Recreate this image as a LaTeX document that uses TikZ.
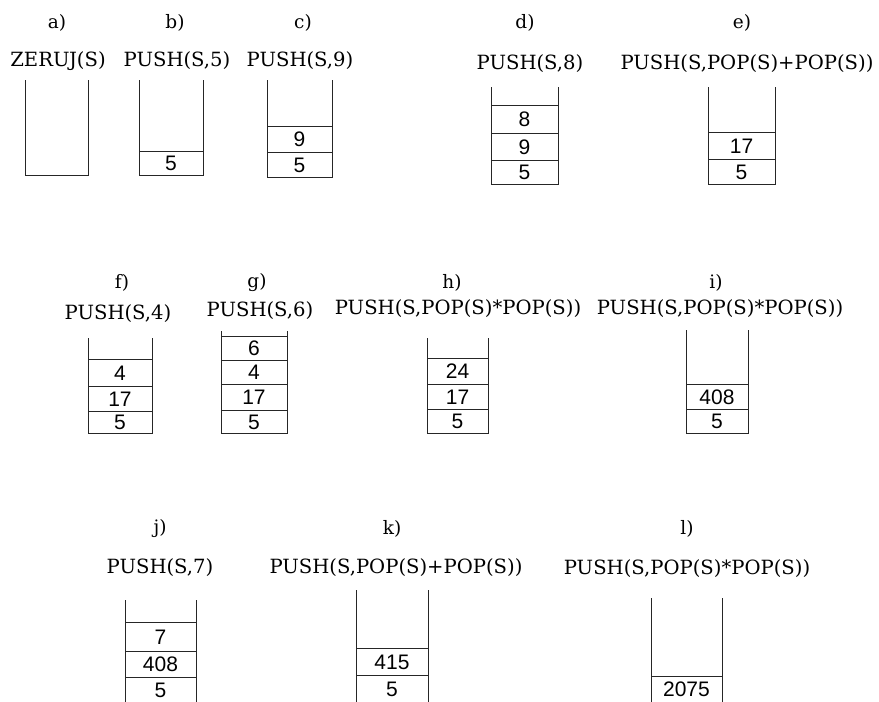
\documentclass[tikz,border=0pt]{standalone}
\usepackage{fontspec}
\setmainfont{DejaVu Serif}
\newfontfamily\cellfont{Liberation Sans}
\usetikzlibrary{positioning}

\tikzset{
  lbl/.style={anchor=center,inner sep=0pt,font=\fontsize{18.5}{22}\selectfont},
  op/.style={anchor=center,inner sep=0pt,font=\fontsize{19.6}{22}\selectfont},
  cell/.style={anchor=center,inner sep=0pt,font=\cellfont\fontsize{21}{23}\selectfont},
  wall/.style={draw=black!85,line width=.9pt}
}

\begin{document}
\begin{tikzpicture}[x=1pt,y=-1pt]
\path[use as bounding box] (0,0) rectangle (879,702);
% row 1
\node[lbl] (la) at (57,23) {a)};
\node[op] (oa) at (58,61) {ZERUJ(S)};
\draw[wall] (25,80) -- (25,175) -- (88,175) -- (88,80);
\node[lbl] (lb) at (175,23) {b)};
\node[op] (ob) at (177,61) {PUSH(S,5)};
\draw[wall] (139,80) -- (139,175) -- (203,175) -- (203,80);
\draw[wall] (139,151) -- (203,151);
\node[cell] (b1) at (171,163.5) {5};
\node[lbl] (lc) at (303,23) {c)};
\node[op] (oc) at (300,61) {PUSH(S,9)};
\draw[wall] (267,80) -- (267,177) -- (332,177) -- (332,80);
\draw[wall] (267,126) -- (332,126);
\draw[wall] (267,152) -- (332,152);
\node[cell] (c2) at (299.5,139.5) {9};
\node[cell] (c1) at (299.5,165) {5};
\node[lbl] (ld) at (525,23) {d)};
\node[op] (od) at (530,64) {PUSH(S,8)};
\draw[wall] (491,87) -- (491,184) -- (558,184) -- (558,87);
\draw[wall] (491,105) -- (558,105);
\draw[wall] (491,133) -- (558,133);
\draw[wall] (491,160) -- (558,160);
\node[cell] (d3) at (524.5,119.5) {8};
\node[cell] (d2) at (524.5,147) {9};
\node[cell] (d1) at (524.5,172.5) {5};
\node[lbl] (le) at (742,23) {e)};
\node[op] (oe) at (747,64) {PUSH(S,POP(S)+POP(S))};
\draw[wall] (708,87) -- (708,184) -- (775,184) -- (775,87);
\draw[wall] (708,132) -- (775,132);
\draw[wall] (708,159) -- (775,159);
\node[cell] (e2) at (741.5,146) {17};
\node[cell] (e1) at (741.5,172) {5};
% row 2
\node[lbl] (lf) at (122,283) {f)};
\node[op] (of) at (118,314) {PUSH(S,4)};
\draw[wall] (88,338) -- (88,433) -- (152,433) -- (152,338);
\draw[wall] (88,359) -- (152,359);
\draw[wall] (88,386) -- (152,386);
\draw[wall] (88,411) -- (152,411);
\node[cell] (f3) at (120,373) {4};
\node[cell] (f2) at (120,399) {17};
\node[cell] (f1) at (120,422.5) {5};
\node[lbl] (lg) at (257,283) {g)};
\node[op] (og) at (260,311) {PUSH(S,6)};
\draw[wall] (221,331) -- (221,433) -- (287,433) -- (287,331);
\draw[wall] (221,336) -- (287,336);
\draw[wall] (221,360) -- (287,360);
\draw[wall] (221,384) -- (287,384);
\draw[wall] (221,410) -- (287,410);
\node[cell] (g4) at (254,348.5) {6};
\node[cell] (g3) at (254,372.5) {4};
\node[cell] (g2) at (254,397.5) {17};
\node[cell] (g1) at (254,422) {5};
\node[lbl] (lh) at (452,283) {h)};
\node[op] (oh) at (458,309) {PUSH(S,POP(S)*POP(S))};
\draw[wall] (427,338) -- (427,433) -- (488,433) -- (488,338);
\draw[wall] (427,358) -- (488,358);
\draw[wall] (427,384) -- (488,384);
\draw[wall] (427,409) -- (488,409);
\node[cell] (h3) at (457.5,371.5) {24};
\node[cell] (h2) at (457.5,397) {17};
\node[cell] (h1) at (457.5,421.5) {5};
\node[lbl] (li) at (716,283) {i)};
\node[op] (oi) at (720,309) {PUSH(S,POP(S)*POP(S))};
\draw[wall] (686,330) -- (686,433) -- (748,433) -- (748,330);
\draw[wall] (686,384) -- (748,384);
\draw[wall] (686,409) -- (748,409);
\node[cell] (i2) at (717,397) {408};
\node[cell] (i1) at (717,421.5) {5};
% row 3
\node[lbl] (lj) at (160,529) {j)};
\node[op] (oj) at (160,568) {PUSH(S,7)};
\draw[wall] (125,600) -- (125,702);
\draw[wall] (196,600) -- (196,702);
\draw[wall] (125,622) -- (196,622);
\draw[wall] (125,651) -- (196,651);
\draw[wall] (125,677) -- (196,677);
\node[cell] (j3) at (160.5,637) {7};
\node[cell] (j2) at (160.5,664.5) {408};
\node[cell] (j1) at (160.5,690.5) {5};
\node[lbl] (lk) at (392,529) {k)};
\node[op] (ok) at (396,568) {PUSH(S,POP(S)+POP(S))};
\draw[wall] (356,590) -- (356,702);
\draw[wall] (428,590) -- (428,702);
\draw[wall] (356,648) -- (428,648);
\draw[wall] (356,675) -- (428,675);
\node[cell] (k2) at (392,662) {415};
\node[cell] (k1) at (392,689) {5};
\node[lbl] (ll) at (687,529) {l)};
\node[op] (ol) at (687,569) {PUSH(S,POP(S)*POP(S))};
\draw[wall] (651,598) -- (651,702);
\draw[wall] (722,598) -- (722,702);
\draw[wall] (651,676) -- (722,676);
\node[cell] (l1) at (686.5,689.5) {2075};
\end{tikzpicture}
\end{document}
